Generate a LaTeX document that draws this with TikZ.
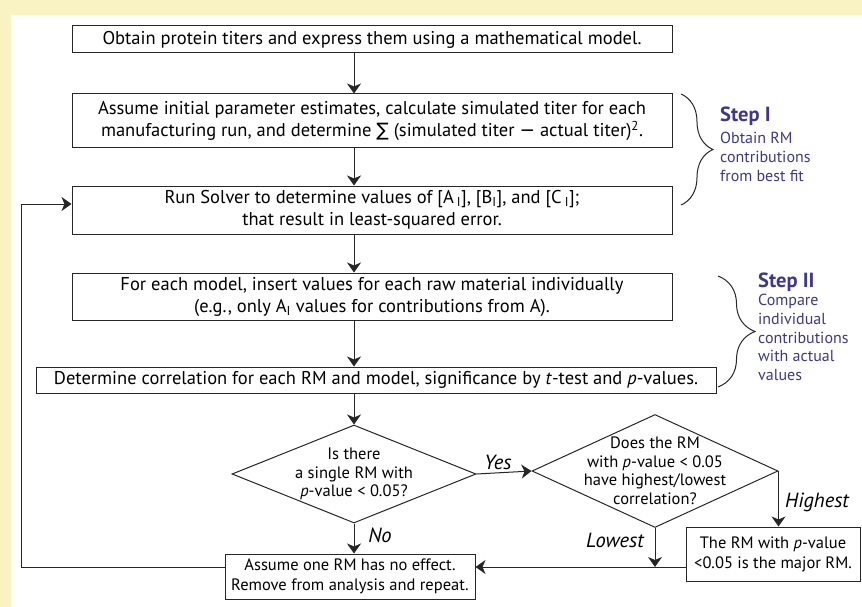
\documentclass[tikz,border=0pt]{standalone}
\usepackage{fontspec}
\setmainfont{PT Sans}
\newfontfamily\symfont{DejaVu Sans}
\usetikzlibrary{shapes.geometric,arrows.meta,decorations.pathreplacing}
\definecolor{paleyellow}{RGB}{249,243,196}
\definecolor{steppurple}{RGB}{62,56,140}
\begin{document}
\begin{tikzpicture}[x=1pt,y=-1pt,
	font=\fontsize{18.5}{22}\selectfont,
	box/.style={draw=black!85, line width=1pt, align=center, inner sep=0pt, minimum width=600pt},
	endbox/.style={box, font=\fontsize{16.5}{20}\selectfont},
	dec/.style={draw=black!85, line width=1pt, shape=diamond, aspect=2.2, inner sep=-14pt, align=center, font=\fontsize{16.5}{18.5}\selectfont},
	flow/.style={draw=black!85, line width=1pt, -{Stealth[length=10pt,width=14pt,inset=3pt]}},
	ans/.style={font=\fontsize{20.5}{22}\selectfont\itshape},
	stepbrace/.style={draw=black!85, line width=1pt, decorate, decoration={brace, amplitude=#1}},
	steptitle/.style={text=steppurple, anchor=west, inner sep=0pt, font=\fontsize{20.5}{22}\selectfont\bfseries},
	steptxt/.style={text=steppurple, align=left, anchor=north west, inner sep=0pt, font=\fontsize{16}{18.8}\selectfont}
	]
	\useasboundingbox (0,0) rectangle (862,607);
	\fill[paleyellow] (0,0) rectangle (862,15);
	\fill[paleyellow] (0,0) rectangle (11,607);
	\draw
	node[box, minimum height=27pt] at (372,39.5) (obtain) {Obtain protein titers and express them using a mathematical model.}
	node[box, minimum height=54pt] at (372,121) (initial) {Assume initial parameter estimates, calculate simulated titer for each\\ manufacturing run, and determine {\symfont ∑} (simulated titer {\symfont −} actual titer)\textsuperscript{2}.}
	node[box, minimum height=48pt] at (372,210) (solver) {Run Solver to determine values of [A\,\textsubscript{I}], [B\textsubscript{I}], and [C\,\textsubscript{I}];\\ that result in least-squared error.}
	node[box, minimum height=47pt] at (372,296.5) (insert) {For each model, insert values for each raw material individually\\ (e.g., only A\textsubscript{I} values for contributions from A).}
	node[box, minimum width=680pt, minimum height=26pt] at (376,380) (correl) {Determine correlation for each RM and model, significance by \textit{t}-test and \textit{p}-values.}
	node[dec, minimum width=244pt, minimum height=98pt] at (354,474) (single) {Is there\\ a single RM with\\ \textit{p}-value < 0.05?}
	node[dec, minimum width=246pt, minimum height=113pt] at (655,471) (highlow) {Does the RM\\ with \textit{p}-value < 0.05\\ have highest/lowest\\ correlation?}
	node[endbox, minimum width=250pt, minimum height=45pt] at (350,576.5) (noeffect) {Assume one RM has no effect.\\ Remove from analysis and repeat.}
	node[endbox, minimum width=174pt, minimum height=54pt] at (773,554) (major) {The RM with \textit{p}-value\\ <0.05 is the major RM.}
	node[ans] at (498,462) (yes) {Yes}
	node[ans] at (380,535) (no) {No}
	node[ans] at (817,502) (highest) {Highest}
	node[ans] at (615,540) (lowest) {Lowest}
	node[steptitle] at (720,116) (stepone) {Step I}
	node[steptxt] at (720,132) (stepone text) {Obtain RM\\ contributions\\ from best fit}
	node[steptitle] at (758,282) (steptwo) {Step II}
	node[steptxt] at (758,294) (steptwo text) {Compare\\ individual\\ contributions\\ with actual\\ values};
	\coordinate (join) at (655,567);
	\coordinate (loopcorner) at (21,567);
	\draw[flow] (obtain.south -| single.north) -- (initial.north -| single.north);
	\draw[flow] (initial.south -| single.north) -- (solver.north -| single.north);
	\draw[flow] (solver.south -| single.north) -- (insert.north -| single.north);
	\draw[flow] (insert.south -| single.north) -- (correl.north -| single.north);
	\draw[flow] (correl.south -| single.north) -- (single.north);
	\draw[flow] (single.east) -- (highlow.west);
	\draw[flow] (single.south) -- (noeffect.north -| single.south);
	\draw[flow] (highlow.east) -- (highlow.east |- major.north);
	\draw[flow] (highlow.south) -- (join);
	\draw[flow] (major.west |- join) -- (noeffect.east |- join);
	\draw[flow] (noeffect.west |- join) -- (loopcorner) |- ([yshift=6pt]solver.west);
	\draw[stepbrace=32pt] (681,94) -- (681,205);
	\draw[stepbrace=37pt] (718,276) -- (718,387);
\end{tikzpicture}
\end{document}
